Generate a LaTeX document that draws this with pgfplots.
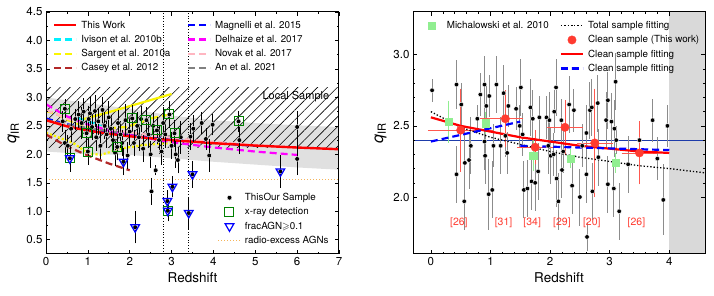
\documentclass[border=0pt]{standalone}
\usepackage{fontspec}
\setmainfont{TeX Gyre Heros}
\usepackage{amssymb}
\usepackage{pgfplots}
\pgfplotsset{compat=1.18}
\usetikzlibrary{patterns.meta}
\definecolor{myred}{RGB}{255,0,0}
\definecolor{mycyan}{RGB}{0,240,255}
\definecolor{myyellow}{RGB}{250,245,0}
\definecolor{mybrown}{RGB}{178,40,40}
\definecolor{myblue}{RGB}{0,0,255}
\definecolor{mymag}{RGB}{255,0,255}
\definecolor{mypink}{RGB}{255,182,193}
\definecolor{mygrey}{RGB}{128,128,128}
\definecolor{mygreen}{RGB}{0,128,0}
\definecolor{myorange}{RGB}{245,180,90}
\definecolor{lgreen}{RGB}{144,238,144}
\definecolor{cred}{RGB}{255,59,48}
\definecolor{navyl}{RGB}{30,60,170}
\pgfplotsset{
 base/.style={scale only axis, anchor=south west, tick align=inside,
  major tick length=4pt, minor tick length=2pt,
  every tick/.style={black, line width=0.6pt},
  axis line style={line width=1pt},
  tick label style={font=\fontsize{11.5}{13}\selectfont},
  xlabel style={font=\fontsize{13.5}{15}\selectfont},
  ylabel style={font=\fontsize{16}{17}\selectfont},
  /pgf/number format/assume math mode=true,
  axis on top},
 legax/.style={hide axis, scale only axis, anchor=south west, xmin=0, xmax=1, ymin=0, ymax=1,
  legend cell align=left,
  legend style={draw=none, fill=none, inner sep=0pt, outer sep=0pt,
   font=\fontsize{9.8}{12}\selectfont, row sep=1pt, anchor=north west,
   /tikz/every odd column/.append style={column sep=3pt},
   nodes={inner sep=1pt, text height=8.5pt, text depth=2.8pt}},
  legend image code/.code={\path[draw=none, fill=none] (0pt,0pt) -- (22pt,0pt);
   \draw[mark repeat=2,mark phase=2,##1] plot coordinates {(0pt,0pt) (11pt,0pt) (22pt,0pt)};}},
 dsh/.style={dash pattern=on 7pt off 4pt, line width=2.2pt},
}
\begin{document}
\begin{tikzpicture}
% ================= LEFT PANEL =================
\begin{axis}[base, at={(46pt,42pt)}, width=293pt, height=242pt,
 xmin=0, xmax=7, ymin=0.25, ymax=4.5,
 xtick={0,1,2,3,4,5,6,7}, minor x tick num=1,
 ytick={0.5,1.0,1.5,2.0,2.5,3.0,3.5,4.0,4.5}, minor y tick num=1,
 yticklabel style={/pgf/number format/.cd, fixed, fixed zerofill, precision=1},
 xlabel={Redshift}, ylabel={\itshape q\textsubscript{\normalfont IR}}]
% grey band
\addplot[draw=none, fill=black!12, forget plot] coordinates {
 (0,3.00) (1,2.90) (2,2.80) (3,2.68) (4,2.60) (5,2.55) (6,2.51) (7,2.48)
 (7,1.73) (6,1.77) (5,1.82) (4,1.87) (3,1.93) (2,1.99) (1,2.00) (0,2.05)} -- cycle;
\node[font=\fontsize{11}{13}\selectfont] at (axis cs:5.97,3.01) {Local Sample};
% hatched local sample
\addplot[draw=none, pattern={Lines[angle=45, distance=7pt, line width=0.6pt]}, pattern color=black, forget plot]
 coordinates {(0,2.12) (7,2.12) (7,3.17) (0,3.17)} -- cycle;
% vertical dotted lines
\addplot[black, dotted, line width=0.7pt] coordinates {(2.8,0.25) (2.8,4.5)};
\addplot[black, dotted, line width=0.7pt] coordinates {(3.41,0.25) (3.41,4.5)};
% radio-excess
\addplot[myorange, dotted, line width=1pt] coordinates {(0,1.55) (7,1.55)};
% Sargent
\addplot[myyellow, line width=2.2pt] coordinates {(0.8,2.60) (1.5,2.74) (2.25,2.90) (3.0,3.06)};
\addplot[myyellow, dsh] coordinates {(0.0,2.76) (0.21,2.72) (0.53,2.6) (0.9,2.5) (1.3,2.45) (1.93,2.48) (2.56,2.64) (2.95,2.70)};
\addplot[myyellow, dotted, line width=2.2pt] coordinates {(0.0,2.38) (0.33,2.29) (0.65,2.2) (1.0,2.02) (1.3,1.99) (1.85,2.11) (2.4,2.17) (3.04,2.20)};
% Casey
\addplot[mybrown, dsh] coordinates {(0,2.35) (0.5,2.14) (1,1.98) (1.5,1.84) (2,1.72)};
% Ivison
\addplot[mycyan, dsh] coordinates {(0.75,2.64) (1.0,2.58) (1.25,2.52) (1.5,2.42)};
% Magnelli
\addplot[myblue, dsh] coordinates {(0,2.63) (0.5,2.53) (1,2.45) (1.5,2.39) (2,2.34) (3,2.26) (4,2.20) (5,2.15)};
% An
\addplot[mygrey, dsh] coordinates {(0,2.60) (0.5,2.52) (1,2.46) (1.5,2.41) (2,2.37) (2.5,2.34) (3,2.31)};
% Novak
\addplot[mypink, dsh] coordinates {(0,2.78) (0.5,2.627) (1,2.523) (1.5,2.445) (2,2.384) (3,2.290) (4,2.219) (5,2.163) (6,2.117)};
% Delhaize
\addplot[mymag, dsh] coordinates {(0,2.88) (0.5,2.667) (1,2.525) (1.5,2.420) (2,2.337) (3,2.213) (4,2.121) (5,2.049) (6,1.990)};
% This work
\addplot[myred, line width=2.4pt] coordinates {(0,2.60) (0.5,2.492) (1,2.417) (1.5,2.362) (2,2.317) (3,2.248) (4,2.196) (5,2.154) (6,2.120) (7,2.090)};
% sample points
\addplot[only marks, mark=*, mark size=2.4pt, mark options={fill=black, draw=white, line width=0.4pt},
 error bars/.cd, y dir=both, y explicit, error bar style={black, line width=0.6pt},
 error mark options={black, mark size=2pt, line width=0.6pt}] coordinates {
(0.45,2.80) +- (0,0.13) (0.40,2.58) +- (0,0.15) (0.45,2.20) +- (0,0.2) (0.52,2.15) +- (0,0.15)
(0.57,1.93) +- (0,0.2) (0.60,2.45) +- (0,0.2) (0.70,2.62) +- (0,0.15) (0.78,2.70) +- (0,0.2)
(0.85,2.55) +- (0,0.25) (0.90,2.75) +- (0,0.2) (0.97,2.37) +- (0,0.2) (1.00,2.05) +- (0,0.2)
(1.02,2.62) +- (0,0.2) (1.05,2.72) +- (0,0.25) (1.10,2.48) +- (0,0.2) (1.17,2.76) +- (0,0.25)
(1.20,2.30) +- (0,0.2) (1.25,2.58) +- (0,0.2) (1.30,2.15) +- (0,0.2) (1.35,2.78) +- (0,0.2)
(1.40,2.50) +- (0,0.2) (1.45,2.35) +- (0,0.2) (1.50,2.65) +- (0,0.25) (1.55,2.45) +- (0,0.2)
(1.60,2.25) +- (0,0.2) (1.65,2.03) +- (0,0.2) (1.70,2.13) +- (0,0.2) (1.72,2.55) +- (0,0.2)
(1.78,2.35) +- (0,0.2) (1.82,2.20) +- (0,0.2) (1.85,1.87) +- (0,0.2) (1.90,2.60) +- (0,0.25)
(1.95,1.98) +- (0,0.2) (2.00,2.40) +- (0,0.2) (2.06,2.63) +- (0,0.2) (2.10,2.20) +- (0,0.2)
(2.13,0.72) +- (0,0.25) (2.18,2.50) +- (0,0.2) (2.22,2.30) +- (0,0.2) (2.27,2.62) +- (0,0.2)
(2.32,2.10) +- (0,0.2) (2.40,2.60) +- (0,0.2) (2.45,2.35) +- (0,0.2) (2.50,2.00) +- (0,0.2)
(2.52,1.35) +- (0,0.2) (2.56,2.50) +- (0,0.2) (2.62,1.72) +- (0,0.05) (2.65,2.42) +- (0,0.2)
(2.70,2.25) +- (0,0.2) (2.76,2.05) +- (0,0.2) (2.80,2.55) +- (0,0.25) (2.85,2.35) +- (0,0.2)
(2.90,1.18) +- (0,0.15) (2.91,1.01) +- (0,0.15) (2.95,2.70) +- (0,0.2) (3.00,2.15) +- (0,0.2)
(3.02,1.43) +- (0,0.15) (3.07,2.37) +- (0,0.2) (3.10,2.00) +- (0,0.2) (3.15,1.90) +- (0,0.2)
(3.22,2.30) +- (0,0.25) (3.41,0.97) +- (0,0.25) (3.45,2.31) +- (0,0.2) (3.50,1.65) +- (0,0.2)
(3.52,2.45) +- (0,0.2) (3.72,2.55) +- (0,0.15) (3.82,2.27) +- (0,0.15) (3.90,1.98) +- (0,0.25)
(3.98,2.52) +- (0,0.15) (4.60,2.58) +- (0,0.15) (4.62,2.25) +- (0,0.2) (5.60,1.70) +- (0,0.25)
(6.00,2.48) +- (0,0.25) (6.00,1.92) +- (0,0.25)};
% x-ray squares
\addplot[only marks, mark=square, mark size=4.5pt, mark options={draw=mygreen, line width=1pt}] coordinates {
(0.45,2.80) (0.57,1.93) (0.97,2.37) (1.00,2.05) (1.70,2.13) (2.06,2.63) (2.40,2.60) (2.65,2.42)
(2.95,2.70) (3.07,2.37) (2.91,1.01) (4.60,2.58)};
% AGN triangles
\addplot[only marks, mark=triangle, mark size=5pt, mark options={draw=myblue, line width=1.2pt, rotate=180}] coordinates {
(0.57,1.93) (1.85,1.87) (2.13,0.72) (2.90,1.18) (2.91,1.01) (3.02,1.43) (3.41,0.97) (3.50,1.65) (5.60,1.70)};
\end{axis}
% left legends
\begin{axis}[legax, at={(46pt,42pt)}, width=293pt, height=242pt, legend style={at={(0.024,0.973)}}]
\addlegendimage{myred, line width=2.4pt, mark=none}\addlegendentry{This Work}
\addlegendimage{mycyan, dsh, mark=none}\addlegendentry{Ivison et al. 2010b}
\addlegendimage{myyellow, dsh, mark=none}\addlegendentry{Sargent et al. 2010a}
\addlegendimage{mybrown, dsh, mark=none}\addlegendentry{Casey et al. 2012}
\end{axis}
\begin{axis}[legax, at={(46pt,42pt)}, width=293pt, height=242pt, legend style={at={(0.481,0.973)}}]
\addlegendimage{myblue, dsh, mark=none}\addlegendentry{Magnelli et al. 2015}
\addlegendimage{mymag, dsh, mark=none}\addlegendentry{Delhaize et al. 2017}
\addlegendimage{mypink, dsh, mark=none}\addlegendentry{Novak et al. 2017}
\addlegendimage{mygrey, dsh, mark=none}\addlegendentry{An et al. 2021}
\end{axis}
\begin{axis}[legax, at={(46pt,42pt)}, width=293pt, height=242pt, legend style={at={(0.587,0.26)}}]
\addlegendimage{only marks, mark=*, mark size=2.4pt, mark options={fill=black, draw=white}}\addlegendentry{ThisOur Sample}
\addlegendimage{only marks, mark=square, mark size=4.5pt, mark options={draw=mygreen, line width=1pt}}\addlegendentry{x-ray detection}
\addlegendimage{only marks, mark=triangle, mark size=5pt, mark options={draw=myblue, line width=1.2pt, rotate=180}}\addlegendentry{fracAGN$\geqslant$0.1}
\addlegendimage{myorange, dotted, line width=1pt, mark=none}\addlegendentry{radio-excess AGNs}
\end{axis}
% ================= RIGHT PANEL =================
\begin{axis}[base, at={(413pt,42pt)}, width=292pt, height=242pt,
 xmin=-0.3, xmax=4.6, ymin=1.6, ymax=3.3,
 xtick={0,1,2,3,4}, minor x tick num=4,
 ytick={2.0,2.5,3.0}, minor y tick num=4,
 yticklabel style={/pgf/number format/.cd, fixed, fixed zerofill, precision=1},
 xlabel={Redshift}, ylabel={\itshape q\textsubscript{\normalfont IR}}]
\addplot[draw=none, fill=black!15, forget plot] coordinates {(4,1.6) (4.6,1.6) (4.6,3.3) (4,3.3)} -- cycle;
\addplot[navyl, line width=0.7pt] coordinates {(-0.3,2.40) (4.6,2.40)};
\addplot[only marks, mark=*, mark size=2.3pt, mark options={fill=black, draw=white, line width=0.4pt},
 error bars/.cd, y dir=both, y explicit, error bar style={black!45, line width=1pt}, error mark=none] coordinates {
(0.02,2.75) +- (0,0.08) (0.43,2.79) +- (0,0.17) (0.43,2.16) +- (0,0.2) (0.51,2.65) +- (0,0.15)
(0.56,1.97) +- (0,0.2) (0.57,2.24) +- (0,0.25) (0.64,2.26) +- (0,0.2) (0.67,2.36) +- (0,0.2)
(0.78,2.55) +- (0,0.1) (0.83,2.72) +- (0,0.15) (0.90,2.79) +- (0,0.2) (0.91,2.29) +- (0,0.2)
(0.90,2.39) +- (0,0.2) (0.93,2.64) +- (0,0.15) (0.97,2.02) +- (0,0.25) (0.98,2.71) +- (0,0.15)
(1.03,2.05) +- (0,0.2) (1.05,2.36) +- (0,0.15) (1.10,2.79) +- (0,0.2) (1.17,2.36) +- (0,0.2)
(1.22,2.73) +- (0,0.2) (1.25,2.43) +- (0,0.15) (1.28,2.31) +- (0,0.15) (1.30,2.64) +- (0,0.15)
(1.43,2.62) +- (0,0.15) (1.49,2.50) +- (0,0.15) (1.51,2.77) +- (0,0.2) (1.54,2.44) +- (0,0.15)
(1.56,2.05) +- (0,0.2) (1.62,2.06) +- (0,0.2) (1.67,2.63) +- (0,0.2) (1.69,2.11) +- (0,0.2)
(1.71,2.55) +- (0,0.2) (1.75,2.10) +- (0,0.2) (1.80,2.18) +- (0,0.2) (1.82,2.56) +- (0,0.15)
(1.94,2.56) +- (0,0.15) (1.97,2.36) +- (0,0.2) (1.99,2.54) +- (0,0.2) (2.01,2.29) +- (0,0.2)
(2.07,2.60) +- (0,0.15) (2.06,2.30) +- (0,0.15) (2.10,2.77) +- (0,0.2) (2.11,2.13) +- (0,0.2)
(2.14,1.97) +- (0,0.2) (2.19,2.54) +- (0,0.15) (2.20,2.19) +- (0,0.2) (2.22,2.32) +- (0,0.15)
(2.32,2.65) +- (0,0.2) (2.37,2.08) +- (0,0.2) (2.40,2.61) +- (0,0.15) (2.50,2.00) +- (0,0.2)
(2.54,2.36) +- (0,0.15) (2.61,2.45) +- (0,0.2) (2.61,2.16) +- (0,0.2) (2.62,1.72) +- (0,0.1)
(2.67,2.61) +- (0,0.2) (2.70,2.63) +- (0,0.2) (2.71,2.04) +- (0,0.2) (2.80,2.66) +- (0,0.2)
(2.81,2.28) +- (0,0.2) (2.94,2.54) +- (0,0.2) (2.97,2.68) +- (0,0.2) (2.97,2.09) +- (0,0.2)
(3.03,2.53) +- (0,0.2) (3.07,2.06) +- (0,0.2) (3.08,2.48) +- (0,0.2) (3.10,2.81) +- (0,0.2)
(3.11,2.40) +- (0,0.1) (3.16,1.90) +- (0,0.2) (3.31,2.23) +- (0,0.2) (3.50,2.40) +- (0,0.1)
(3.72,2.54) +- (0,0.15) (3.80,2.27) +- (0,0.15) (3.90,1.98) +- (0,0.25) (3.97,2.50) +- (0,0.15)};
% Michalowski
\addplot[only marks, mark=square*, mark size=3.7pt, mark options={fill=lgreen, draw=lgreen},
 error bars/.cd, y dir=both, y explicit, error bar style={lgreen, line width=0.9pt},
 error mark options={lgreen, mark size=2.5pt, line width=0.9pt}] coordinates {
(0.30,2.53) +- (0,0.13) (0.92,2.52) +- (0,0.06) (1.72,2.29) +- (0,0.09) (2.35,2.27) +- (0,0.05) (3.10,2.24) +- (0,0.05)};
% clean sample bins
\addplot[only marks, mark=*, mark size=4.2pt, mark options={fill=cred, draw=cred},
 error bars/.cd, x dir=both, x explicit, y dir=both, y explicit,
 error bar style={cred!85, line width=0.8pt}, error mark options={cred!85, mark size=3pt, line width=0.8pt}] coordinates {
(0.50,2.47) +- (0.5,0.27) (1.25,2.55) += (0.25,0.18) -= (0.38,0.18) (1.75,2.35) +- (0.25,0.1)
(2.25,2.49) +- (0.25,0.17) (2.75,2.38) +- (0.25,0.36) (3.50,2.31) +- (0.25,0.2)};
% fits
\addplot[black, dotted, line width=1.3pt] coordinates {(0,2.60) (0.5,2.49) (1,2.42) (1.5,2.37) (2,2.32) (2.5,2.28) (3,2.25) (3.5,2.22) (4,2.20) (4.6,2.17)};
\addplot[myred, line width=2.2pt] coordinates {(0,2.56) (0.5,2.50) (1,2.46) (1.5,2.42) (2,2.39) (2.5,2.36) (3,2.34) (3.5,2.32) (4,2.31)};
\addplot[myblue, dsh] coordinates {(0,2.39) (1.5,2.53)};
\addplot[myblue, dsh] coordinates {(1.5,2.36) (4,2.33)};
\node[cred, font=\fontsize{10.5}{12}\selectfont] at (axis cs:0.47,1.82) {[26]};
\node[cred, font=\fontsize{10.5}{12}\selectfont] at (axis cs:1.22,1.82) {[31]};
\node[cred, font=\fontsize{10.5}{12}\selectfont] at (axis cs:1.70,1.82) {[34]};
\node[cred, font=\fontsize{10.5}{12}\selectfont] at (axis cs:2.20,1.82) {[29]};
\node[cred, font=\fontsize{10.5}{12}\selectfont] at (axis cs:2.70,1.82) {[20]};
\node[cred, font=\fontsize{10.5}{12}\selectfont] at (axis cs:3.45,1.82) {[26]};
\end{axis}
\begin{axis}[legax, at={(413pt,42pt)}, width=292pt, height=242pt, legend style={at={(0.027,0.971)}}]
\addlegendimage{only marks, mark=square*, mark size=3.7pt, mark options={fill=lgreen, draw=lgreen}}\addlegendentry{Michalowski et al. 2010}
\end{axis}
\begin{axis}[legax, at={(413pt,42pt)}, width=292pt, height=242pt, legend style={at={(0.503,0.971)}}]
\addlegendimage{black, dotted, line width=1.3pt, mark=none}\addlegendentry{Total sample fitting}
\addlegendimage{only marks, mark=*, mark size=4.2pt, mark options={fill=cred, draw=cred}}\addlegendentry{Clean sample (This work)}
\addlegendimage{myred, line width=2.2pt, mark=none}\addlegendentry{Clean sample fitting}
\addlegendimage{myblue, dsh, mark=none}\addlegendentry{Clean sample fitting}
\end{axis}
\pgfresetboundingbox
\path[use as bounding box] (0,0) rectangle (714pt,296pt);
\end{tikzpicture}
\end{document}
